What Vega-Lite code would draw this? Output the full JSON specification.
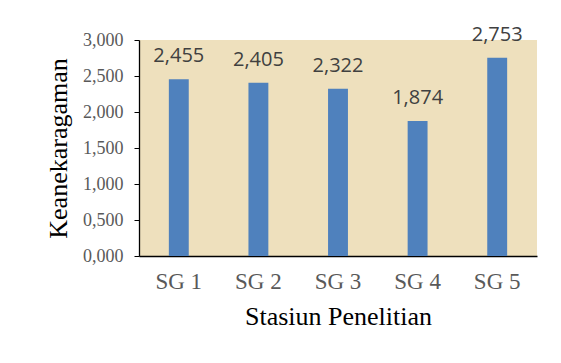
{
  "$schema": "https://vega.github.io/schema/vega-lite/v6.json",
  "autosize": "none",
  "width": 398,
  "height": 216,
  "padding": {"left": 139, "top": 40, "right": 24, "bottom": 107},
  "background": "white",
  "data": {"values": [
    {"stasiun": "SG 1", "nilai": 2.455},
    {"stasiun": "SG 2", "nilai": 2.405},
    {"stasiun": "SG 3", "nilai": 2.322},
    {"stasiun": "SG 4", "nilai": 1.874},
    {"stasiun": "SG 5", "nilai": 2.753}
  ]},
  "encoding": {
    "x": {"field": "stasiun", "type": "nominal", "sort": null,
      "scale": {"paddingInner": 0.75, "paddingOuter": 0.375},
      "axis": {"title": "Stasiun Penelitian", "labelAngle": 0, "ticks": false, "labelPadding": 14,
        "labelFont": "Liberation Serif", "labelFontSize": 23, "labelColor": "#595959",
        "titleFont": "Liberation Serif", "titleFontSize": 26, "titleFontWeight": "normal", "titleColor": "#000000", "titlePadding": 10,
        "domainColor": "#000000", "domainWidth": 1.3}},
    "y": {"field": "nilai", "type": "quantitative",
      "scale": {"domain": [0, 3]},
      "axis": {"title": "Keanekaragaman", "values": [0, 0.5, 1, 1.5, 2, 2.5, 3], "format": ".3f", "grid": false,
        "tickSize": 5, "tickColor": "#000000", "labelPadding": 11,
        "labelFont": "Liberation Serif", "labelFontSize": 18, "labelColor": "#595959",
        "titleFont": "Liberation Serif", "titleFontSize": 26, "titleFontWeight": "normal", "titleColor": "#000000", "titlePadding": 11,
        "domainColor": "#000000", "domainWidth": 1.3}}
  },
  "layer": [
    {"mark": {"type": "bar", "color": "#4f81bd"}},
    {"mark": {"type": "text", "baseline": "alphabetic", "dy": -17, "font": "Open Sans", "fontSize": 20, "color": "#404040"},
      "encoding": {"text": {"field": "nilai", "type": "quantitative", "format": ".3f"}}}
  ],
  "config": {
    "view": {"fill": "#eee0bd", "stroke": null},
    "locale": {"number": {"decimal": ",", "thousands": ".", "grouping": [3], "currency": ["", ""]}}
  }
}
